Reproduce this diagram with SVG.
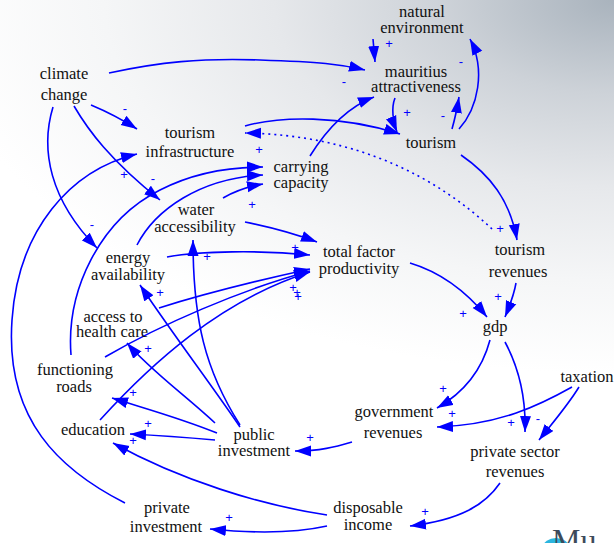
<svg xmlns="http://www.w3.org/2000/svg" width="614" height="543" viewBox="0 0 614 543">
<defs>
<radialGradient id="bg" gradientUnits="userSpaceOnUse" cx="614" cy="0" r="680" gradientTransform="translate(614 0) scale(1 0.55) translate(-614 0)">
<stop offset="0" stop-color="#a9b3bd"/>
<stop offset="0.25" stop-color="#cdd2d8"/>
<stop offset="0.5" stop-color="#e6e8eb"/>
<stop offset="0.75" stop-color="#f5f6f7"/>
<stop offset="1" stop-color="#ffffff"/>
</radialGradient>
<marker id="ah" markerUnits="userSpaceOnUse" markerWidth="17" markerHeight="12" refX="16" refY="6" orient="auto">
<path d="M0,0.5 L16,6 L0,11.5 z" fill="#0000ff"/>
</marker>
<style>
.n{font-family:'Liberation Serif','Times New Roman','DejaVu Serif',serif;font-size:16.5px;fill:#111;text-anchor:middle}
.c{fill:none;stroke:#0000ff;stroke-width:1.6;marker-end:url(#ah)}
.d{fill:none;stroke:#0000ff;stroke-width:1.6;stroke-dasharray:2 4;marker-end:url(#ah)}
.p{font-family:'Liberation Sans',Arial,sans-serif;font-size:13px;fill:#0000ff;text-anchor:middle}
</style>
</defs>
<rect width="614" height="543" fill="url(#bg)"/>
<g id="logo">
<ellipse cx="556" cy="547" rx="13" ry="9" fill="#2bb5df"/>
<text x="552" y="551" font-family="Liberation Serif, serif" font-size="32" fill="#3d4a5a">Mu</text>
</g>
<g id="connectors">
<path class="c" d="M109,73 C160,62 200,58 260,60 S340,64 365,70"/>
<path class="c" d="M373,39 L375,62"/>
<path class="c" d="M459,129 C478,108 486,70 470,39"/>
<path class="c" d="M452,129 Q456,115 459,97"/>
<path class="c" d="M395,98 C391,108 393,122 397,132"/>
<path class="c" d="M245,126 C280,116 340,115 400,134"/>
<path class="d" d="M492,229 C440,180 360,135 245,133"/>
<path class="c" d="M461,155 C490,175 510,200 517,240"/>
<path class="c" d="M91,105 Q115,115 137,129"/>
<path class="c" d="M74,106 C88,130 110,160 160,200"/>
<path class="c" d="M53,107 C40,150 50,200 97,248"/>
<path class="c" d="M125,503 C60,470 5,420 12,320 C18,230 70,170 137,154"/>
<path class="c" d="M71,355 C66,290 100,220 160,190 C195,172 230,167 263,167"/>
<path class="c" d="M137,245 C155,210 200,178 263,175"/>
<path class="c" d="M223,198 Q240,188 263,184"/>
<path class="c" d="M245,222 Q285,230 317,242"/>
<path class="c" d="M167,257 C200,251 260,250 310,255"/>
<path class="c" d="M240,425 C205,370 193,320 193,240"/>
<path class="c" d="M240,427 C215,390 170,330 140,285"/>
<path class="c" d="M215,423 C185,395 150,370 127,343"/>
<path class="c" d="M217,433 C180,418 150,410 112,398"/>
<path class="c" d="M215,440 Q170,436 130,434"/>
<path class="c" d="M327,515 C260,505 180,480 113,443"/>
<path class="c" d="M327,526 C300,532 260,534 210,529"/>
<path class="c" d="M352,442 C335,447 320,451 295,451"/>
<path class="c" d="M500,483 C485,505 460,520 410,526"/>
<path class="c" d="M490,340 C482,370 465,392 437,408"/>
<path class="c" d="M505,342 C520,370 526,400 525,432"/>
<path class="c" d="M572,387 C540,405 500,425 437,427"/>
<path class="c" d="M579,387 C568,405 555,420 539,440"/>
<path class="c" d="M410,263 C440,272 465,290 487,317"/>
<path class="c" d="M516,283 C514,295 510,305 505,317"/>
<path class="c" d="M310,156 C325,132 345,108 374,97"/>
<path class="c" d="M159,308 C200,295 260,280 310,269"/>
<path class="c" d="M105,357 C160,325 240,290 310,271"/>
<path class="c" d="M100,420 C150,365 220,300 310,272"/>
<text class="p" x="389" y="48">+</text>
<text class="p" x="461" y="66">-</text>
<text class="p" x="344" y="86">-</text>
<text class="p" x="407" y="117">+</text>
<text class="p" x="443" y="120">-</text>
<text class="p" x="500" y="233">+</text>
<text class="p" x="259" y="154">+</text>
<text class="p" x="125" y="113">-</text>
<text class="p" x="124" y="179">+</text>
<text class="p" x="153" y="183">-</text>
<text class="p" x="252" y="209">+</text>
<text class="p" x="92" y="229">-</text>
<text class="p" x="207" y="261">+</text>
<text class="p" x="295" y="252">+</text>
<text class="p" x="160" y="297">+</text>
<text class="p" x="293" y="292">+</text>
<text class="p" x="297" y="297">+</text>
<text class="p" x="298" y="301">+</text>
<text class="p" x="148" y="353">+</text>
<text class="p" x="133" y="397">+</text>
<text class="p" x="148" y="428">+</text>
<text class="p" x="133" y="445">+</text>
<text class="p" x="229" y="522">+</text>
<text class="p" x="310" y="442">+</text>
<text class="p" x="425" y="516">+</text>
<text class="p" x="443" y="393">+</text>
<text class="p" x="452" y="418">+</text>
<text class="p" x="511" y="427">+</text>
<text class="p" x="538" y="423">-</text>
<text class="p" x="463" y="318">+</text>
<text class="p" x="498" y="301">+</text>
</g>
<g id="natural-environment"><text class="n" x="422" y="17">natural</text><text class="n" x="422" y="33">environment</text></g>
<g id="mauritius-attractiveness"><text class="n" x="416" y="77">mauritius</text><text class="n" x="416" y="92">attractiveness</text></g>
<g id="tourism"><text class="n" x="431" y="148">tourism</text></g>
<g id="climate-change"><text class="n" x="64" y="79">climate</text><text class="n" x="64" y="100">change</text></g>
<g id="tourism-infrastructure"><text class="n" x="190" y="138">tourism</text><text class="n" x="190" y="157">infrastructure</text></g>
<g id="carrying-capacity"><text class="n" x="301" y="172">carrying</text><text class="n" x="301" y="188">capacity</text></g>
<g id="water-accessibility"><text class="n" x="196" y="215">water</text><text class="n" x="195" y="232">accessibility</text></g>
<g id="total-factor-productivity"><text class="n" x="359" y="257">total factor</text><text class="n" x="359" y="274">productivity</text></g>
<g id="energy-availability"><text class="n" x="128" y="263">energy</text><text class="n" x="128" y="280">availability</text></g>
<g id="tourism-revenues"><text class="n" x="520" y="255">tourism</text><text class="n" x="518" y="277">revenues</text></g>
<g id="access-to-health-care"><text class="n" x="113" y="322">access to</text><text class="n" x="112" y="337">health care</text></g>
<g id="functioning-roads"><text class="n" x="75" y="375">functioning</text><text class="n" x="74" y="392">roads</text></g>
<g id="gdp"><text class="n" x="495" y="332">gdp</text></g>
<g id="taxation"><text class="n" x="587" y="382">taxation</text></g>
<g id="government-revenues"><text class="n" x="394" y="417">government</text><text class="n" x="393" y="438">revenues</text></g>
<g id="education"><text class="n" x="93" y="435">education</text></g>
<g id="public-investment"><text class="n" x="254" y="440">public</text><text class="n" x="254" y="456">investment</text></g>
<g id="private-sector-revenues"><text class="n" x="515" y="457">private sector</text><text class="n" x="515" y="477">revenues</text></g>
<g id="private-investment"><text class="n" x="167" y="513">private</text><text class="n" x="166" y="532">investment</text></g>
<g id="disposable-income"><text class="n" x="368" y="513">disposable</text><text class="n" x="368" y="530">income</text></g>
</svg>
